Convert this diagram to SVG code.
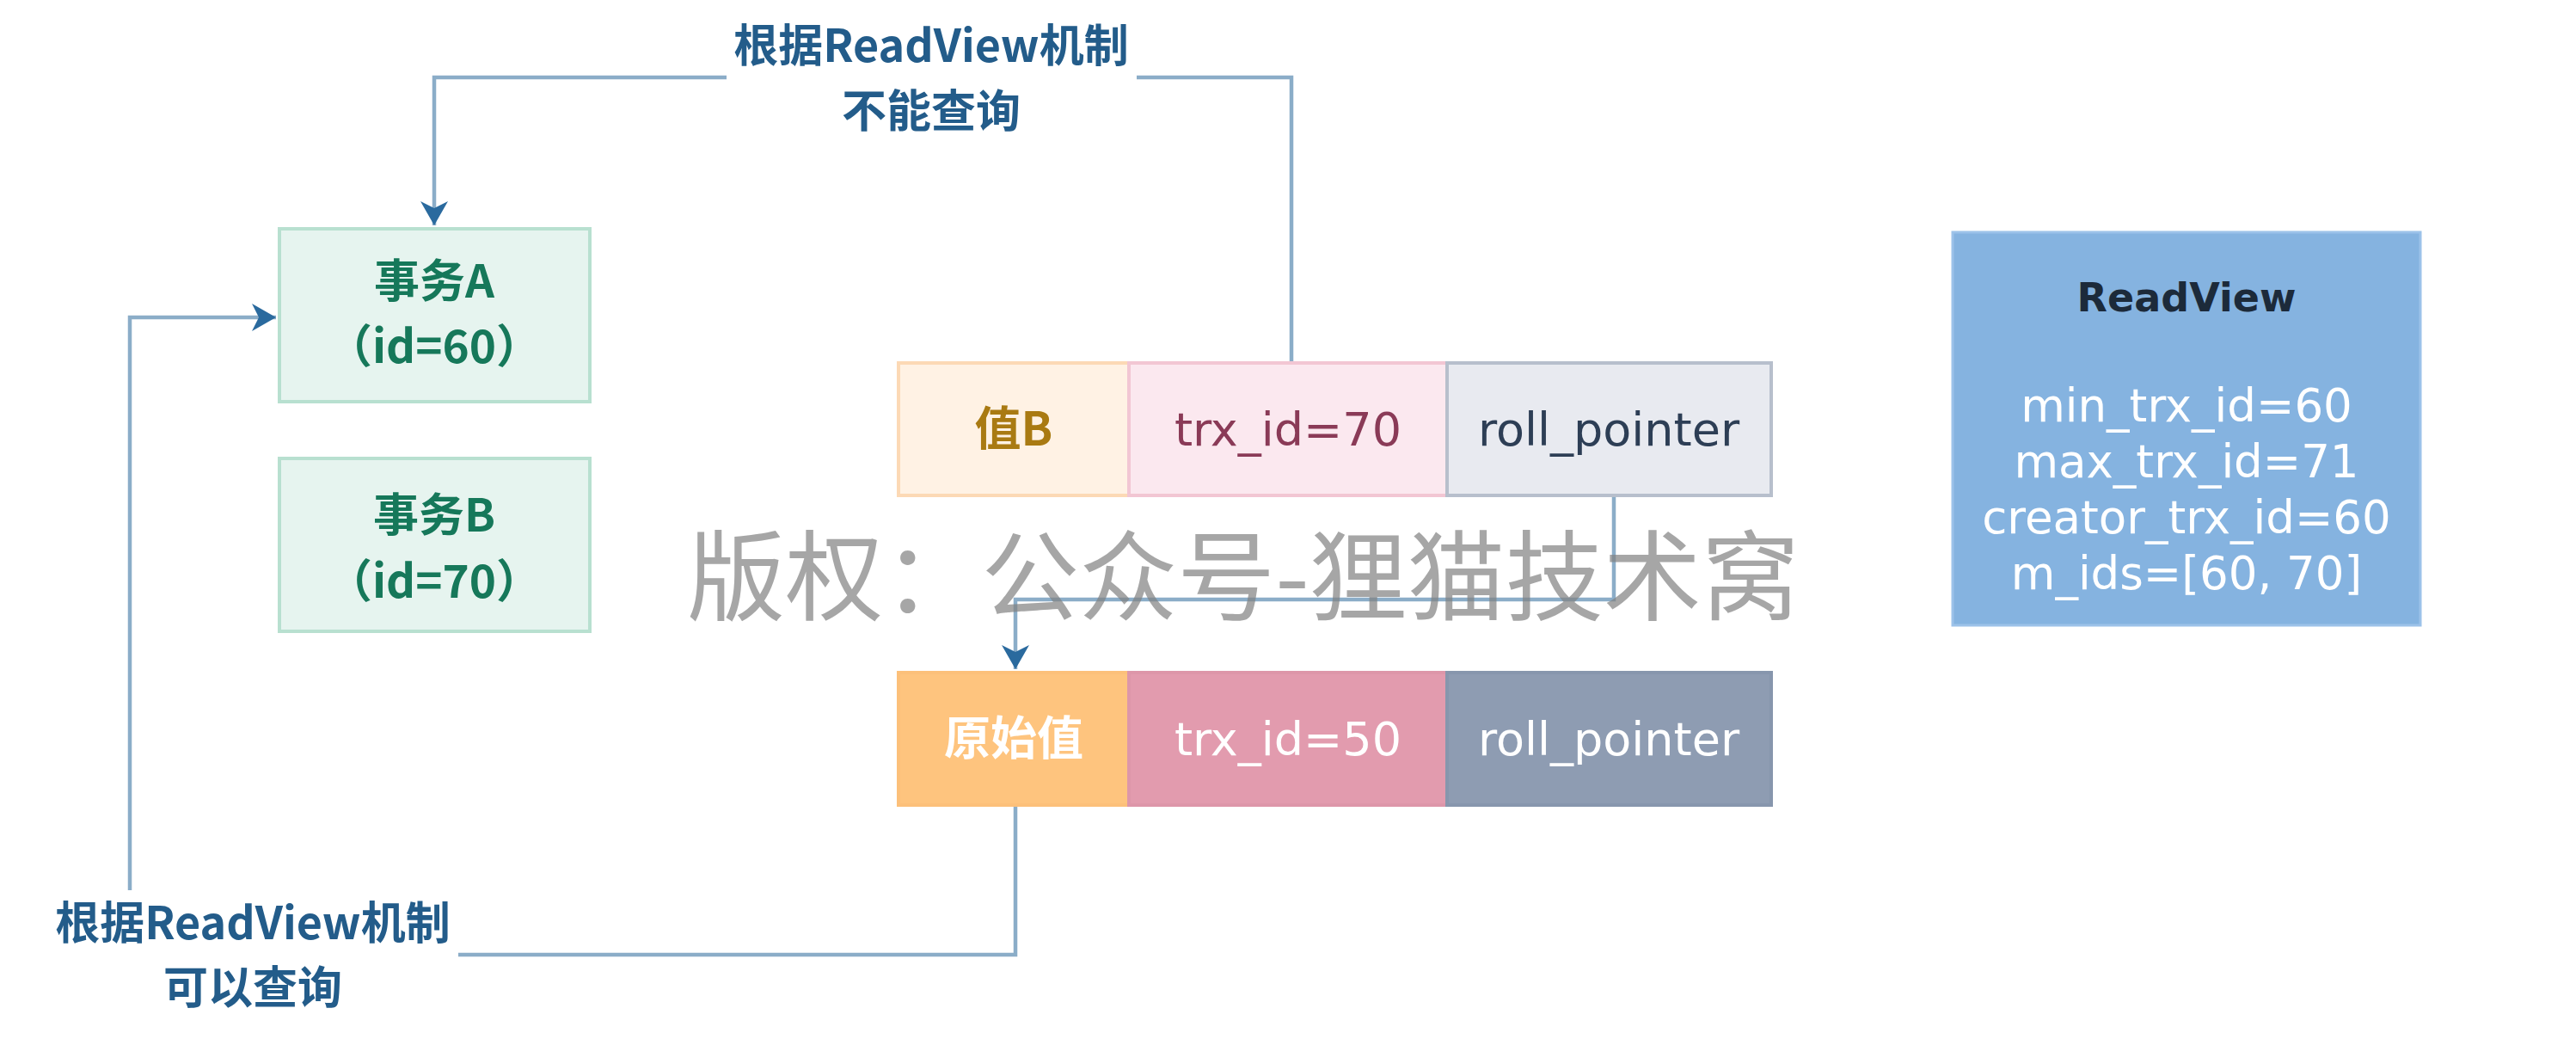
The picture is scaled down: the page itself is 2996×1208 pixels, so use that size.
<svg xmlns="http://www.w3.org/2000/svg" width="2996" height="1208" viewBox="0 0 2996 1208">
<defs>
<style>
.cjk{font-family:"Noto Sans CJK SC","Noto Sans",sans-serif;}
.lat{font-family:"DejaVu Sans","Noto Sans CJK SC",sans-serif;}
.conn{fill:none;stroke:#8badc8;stroke-width:4.5;}
.lbl{fill:#235c8a;font-weight:700;font-size:52px;text-anchor:middle;}
.tx{fill:#e6f4ef;stroke:#b8e0d0;stroke-width:4;}
.txt{fill:#16785a;font-weight:700;font-size:53px;text-anchor:middle;}
.cell{font-size:54px;text-anchor:middle;}
.rv{fill:#ffffff;font-size:53px;text-anchor:middle;}
</style>
<marker id="arr" markerUnits="userSpaceOnUse" markerWidth="32" markerHeight="36" refX="28" refY="17" orient="auto">
<path d="M0,1 L28,17 L0,33 L8,17 Z" fill="#2a6a9e"/>
</marker>
</defs>
<rect width="2996" height="1208" fill="#ffffff"/>

<g id="connectors">
<path class="conn" d="M1502,422 V90 H505 V262" marker-end="url(#arr)"/>
<path class="conn" d="M1877,577 V697 H1181 V778" marker-end="url(#arr)"/>
<path class="conn" d="M1181,936 V1110 H151 V369 H321" marker-end="url(#arr)"/>
<rect x="845" y="22" width="477" height="140" fill="#ffffff"/>
<text class="cjk lbl" x="1083" y="72">根据ReadView机制</text>
<text class="cjk lbl" x="1083" y="148">不能查询</text>
<rect x="56" y="1035" width="477" height="150" fill="#ffffff"/>
<text class="cjk lbl" x="294" y="1092">根据ReadView机制</text>
<text class="cjk lbl" x="294" y="1167">可以查询</text>
</g>

<g id="txA">
<rect class="tx" x="325" y="266" width="361" height="201"/>
<text class="cjk txt" x="505" y="346">事务A</text>
<text class="cjk txt" x="505" y="422">（id=60）</text>
</g>
<g id="txB">
<rect class="tx" x="325" y="533" width="361" height="201"/>
<text class="cjk txt" x="505" y="618">事务B</text>
<text class="cjk txt" x="505" y="695">（id=70）</text>
</g>

<g id="row1">
<rect x="1045" y="422" width="268" height="154" fill="#fff2e4" stroke="#fcd9b5" stroke-width="4"/>
<rect x="1313" y="422" width="370" height="154" fill="#fbe8ef" stroke="#f2c6d3" stroke-width="4"/>
<rect x="1683" y="422" width="377" height="154" fill="#e8eaf0" stroke="#b7bfcc" stroke-width="4"/>
<text class="cjk cell" x="1179" y="518" fill="#a97a12" font-weight="700">值B</text>
<text class="lat cell" x="1498" y="518" fill="#8a3a57">trx_id=70</text>
<text class="lat cell" x="1871" y="518" fill="#2d3e55">roll_pointer</text>
</g>

<g id="row2">
<rect x="1045" y="782" width="268" height="154" fill="#fec47e" stroke="#fcc07a" stroke-width="4"/>
<rect x="1313" y="782" width="370" height="154" fill="#e29bae" stroke="#dd96a9" stroke-width="4"/>
<rect x="1683" y="782" width="377" height="154" fill="#8e9cb2" stroke="#8796ad" stroke-width="4"/>
<text class="cjk cell" x="1179" y="878" fill="#ffffff" font-weight="700">原始值</text>
<text class="lat cell" x="1498" y="878" fill="#ffffff">trx_id=50</text>
<text class="lat cell" x="1871" y="878" fill="#ffffff">roll_pointer</text>
</g>

<g id="readview">
<rect x="2271" y="270" width="544" height="457" fill="#85b3e0" stroke="#9cc2e9" stroke-width="3"/>
<text class="lat" x="2543" y="362" fill="#1c2a3a" font-size="46" font-weight="700" text-anchor="middle">ReadView</text>
<text class="lat rv" x="2543" y="490">min_trx_id=60</text>
<text class="lat rv" x="2543" y="555">max_trx_id=71</text>
<text class="lat rv" x="2543" y="620">creator_trx_id=60</text>
<text class="lat rv" x="2543" y="685">m_ids=[60, 70]</text>
</g>

<text class="cjk" x="1446" y="712" font-size="114" fill="#808080" fill-opacity="0.7" text-anchor="middle">版权：公众号-狸猫技术窝</text>
</svg>
